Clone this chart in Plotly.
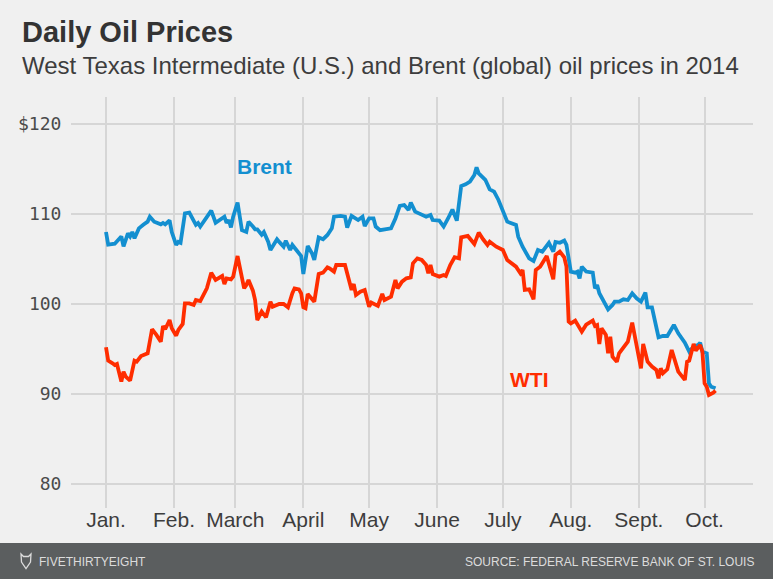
import pandas as pd
import plotly.graph_objects as go

# ---- data (day offsets from 2014-01-01, price in US$ per barrel) ----
brent_day = [0, 1, 4, 6, 7, 8, 10, 11, 12, 13, 14, 15, 17, 19, 20, 21, 22, 25, 26, 27,
             29, 30, 32, 33, 34, 36, 38, 41, 42, 43, 45, 47, 48, 50, 52, 54, 55, 56, 57, 58,
             60, 62, 64, 65, 67, 68, 69, 71, 72, 74, 75, 78, 79, 81, 82, 84, 85, 87, 89, 90,
             92, 94, 95, 97, 99, 101, 103, 104, 107, 109, 110, 112, 115, 117, 118, 120, 122, 123, 125, 130,
             132, 134, 136, 138, 139, 141, 144, 146, 148, 149, 152, 154, 156, 158, 160, 161, 162, 164, 166, 168,
             169, 170, 173, 175, 177, 179, 181, 183, 187, 188, 190, 193, 195, 197, 199, 201, 202, 204, 205, 207,
             209, 210, 212, 214, 215, 216, 217, 219, 222, 223, 224, 225, 227, 229, 231, 232, 234, 236, 238, 240,
             242, 244, 246, 247, 249, 250, 252, 254, 256, 259, 260, 261, 264, 266, 268, 270, 271, 272, 274, 275,
             276, 278]
brent_price = [108.0, 106.6, 106.7, 107.3, 107.5, 106.4, 107.85, 107.5, 108.0, 107.3, 107.85, 108.4, 108.8, 109.15, 109.7, 109.4, 109.15, 108.85, 109.0, 108.85,
               109.3, 108.0, 106.56, 106.9, 106.8, 110.07, 110.15, 108.8, 109.0, 108.6, 109.25, 110.07, 110.37, 109.03, 109.4, 109.7, 109.0, 109.33, 108.5, 109.7,
               111.26, 108.2, 108.0, 109.15, 108.6, 108.3, 108.3, 107.7, 108.0, 106.9, 106.0, 107.19, 106.9, 106.37, 107.03, 106.0, 106.56, 106.0, 105.33, 103.33,
               106.44, 105.6, 104.9, 107.4, 107.2, 107.67, 108.4, 109.7, 109.78, 109.7, 108.48, 109.8, 109.33, 109.7, 108.67, 109.52, 109.52, 108.6, 108.2, 108.4,
               109.5, 110.9, 111.0, 110.44, 111.26, 110.26, 109.9, 109.7, 109.9, 109.33, 109.26, 108.6, 109.5, 110.5, 109.26, 111.56, 113.1, 113.3, 113.6, 114.33,
               115.19, 114.5, 113.8, 112.74, 112.48, 111.56, 110.44, 109.15, 108.78, 107.48, 106.37, 105.07, 104.78, 106.0, 105.81, 106.56, 106.8, 105.81, 106.9, 106.8,
               107.04, 106.56, 103.6, 103.48, 103.6, 102.85, 104.15, 103.6, 103.48, 101.74, 102.1, 101.19, 100.26, 99.41, 99.89, 100.26, 100.26, 100.52, 100.44, 101.19,
               100.63, 100.26, 101.26, 99.63, 99.63, 98.59, 96.3, 96.44, 96.44, 97.67, 97.1, 96.74, 95.7, 94.7, 95.26, 95.44, 95.7, 94.7, 94.52, 91.19,
               90.81, 90.63]

wti_day = [0, 1, 3, 4, 5, 7, 8, 9, 11, 13, 14, 15, 16, 19, 21, 23, 25, 26, 27, 29,
           30, 32, 33, 35, 36, 38, 40, 41, 43, 46, 48, 50, 52, 53, 54, 55, 57, 58, 60, 63,
           64, 65, 67, 68, 69, 71, 73, 75, 76, 79, 81, 83, 85, 86, 88, 89, 90, 91, 92, 95,
           97, 99, 101, 102, 104, 105, 109, 111, 112, 113, 114, 116, 118, 120, 121, 124, 126, 127, 130, 132,
           133, 135, 137, 139, 140, 142, 144, 146, 147, 148, 149, 152, 154, 155, 157, 159, 161, 162, 165, 168,
           170, 172, 174, 175, 178, 181, 183, 187, 189, 190, 191, 193, 195, 196, 198, 201, 204, 205, 207, 209,
           210, 211, 212, 214, 217, 219, 222, 223, 224, 225, 226, 227, 228, 229, 230, 231, 233, 234, 237, 238,
           240, 241, 244, 245, 247, 249, 251, 252, 253, 254, 256, 258, 259, 261, 264, 265, 266, 268, 269, 271,
           272, 273, 274, 275, 277, 278]
wti_price = [95.19, 93.7, 93.41, 93.22, 93.33, 91.37, 92.48, 91.93, 91.48, 93.7, 93.59, 93.96, 94.22, 94.52, 97.19, 96.56, 95.81, 97.56, 97.19, 98.22,
             97.3, 96.48, 97.11, 97.78, 100.07, 100.07, 99.89, 100.44, 100.33, 101.74, 103.48, 102.67, 102.96, 103.11, 102.22, 102.85, 102.74, 103.04, 105.33, 101.74,
             102.11, 102.67, 101.48, 100.44, 98.22, 99.15, 98.52, 100.26, 99.7, 100.0, 100.0, 99.63, 101.19, 101.74, 101.63, 101.19, 99.63, 99.52, 101.11, 100.26,
             103.33, 103.48, 104.07, 103.96, 103.6, 104.33, 104.33, 102.26, 101.56, 102.22, 101.0, 101.37, 101.56, 99.7, 100.15, 99.78, 101.11, 100.44, 100.81, 102.67,
             101.74, 102.48, 102.85, 102.96, 104.52, 105.07, 104.89, 104.33, 103.41, 104.33, 103.33, 103.04, 103.22, 103.11, 104.33, 105.19, 105.07, 107.41, 107.56, 106.67,
             107.93, 107.19, 106.56, 106.92, 106.37, 106.0, 104.89, 104.15, 103.41, 103.78, 101.56, 101.63, 100.52, 103.78, 104.15, 105.33, 102.74, 105.44, 105.81, 105.19,
             104.15, 98.04, 97.85, 98.15, 96.93, 97.7, 98.15, 97.56, 97.67, 95.56, 97.3, 96.93, 96.56, 94.52, 96.37, 94.15, 93.59, 94.52, 95.44, 95.81,
             97.93, 96.74, 92.85, 95.56, 93.59, 93.04, 92.67, 91.74, 92.85, 92.3, 92.74, 94.89, 93.96, 92.48, 91.56, 93.59, 93.7, 95.56, 94.81, 95.44,
             94.7, 91.19, 90.81, 89.89, 90.15, 90.37]

month_starts = ['2014-01-01', '2014-02-01', '2014-03-01', '2014-04-01', '2014-05-01',
                '2014-06-01', '2014-07-01', '2014-08-01', '2014-09-01', '2014-10-01']
month_labels = ['Jan.', 'Feb.', 'March', 'April', 'May', 'June', 'July', 'Aug.', 'Sept.', 'Oct.']
y_ticks = [80, 90, 100, 110, 120]
y_labels = ['80', '90', '100', '110', '$120']

base = pd.Timestamp('2014-01-01')
brent_dates = [base + pd.Timedelta(days=d) for d in brent_day]
wti_dates = [base + pd.Timedelta(days=d) for d in wti_day]

# ---- layout helpers (pixel -> paper) ----
W, H = 773, 579
L, R, T, B = 71, 753, 97, 508


def px(x):
    return (x - L) / (R - L)


def py(y):
    return (B - y) / (B - T)


BG = '#f0f0f0'
BLUE = '#138fd0'
RED = '#ff2d00'
TXT = '#3d3d3d'
FONT = 'Liberation Sans, Arial, sans-serif'

fig = go.Figure()
fig.add_trace(go.Scatter(x=brent_dates, y=brent_price, mode='lines', name='Brent',
                         line=dict(color=BLUE, width=3.8), hoverinfo='skip'))
fig.add_trace(go.Scatter(x=wti_dates, y=wti_price, mode='lines', name='WTI',
                         line=dict(color=RED, width=3.8), hoverinfo='skip'))

fig.update_layout(
    width=W, height=H,
    margin=dict(l=L, r=W - R, t=T, b=H - B, pad=0),
    paper_bgcolor=BG, plot_bgcolor=BG,
    showlegend=False,
    xaxis=dict(
        type='date', range=['2013-12-16 01:00', '2014-10-23 02:00'],
        tickvals=month_starts, ticktext=month_labels,
        showgrid=True, gridcolor='#d6d6d6', gridwidth=1.5,
        zeroline=False, showline=False,
        ticks='', ticklabelstandoff=-3,
        tickfont=dict(family=FONT, size=21, color=TXT),
    ),
    yaxis=dict(
        range=[77.33, 123.0],
        tickvals=y_ticks, ticktext=y_labels,
        showgrid=True, gridcolor='#d6d6d6', gridwidth=1.5,
        zeroline=False, showline=False,
        ticks='outside', ticklen=5, tickcolor='rgba(0,0,0,0)',
        tickfont=dict(family='DejaVu Sans Mono, monospace', size=18, color='#4a4a4a'),
    ),
)

ann = []
ann.append(dict(text='<b>Daily Oil Prices</b>', xref='paper', yref='paper',
                x=px(20), y=py(31.5), xanchor='left', yanchor='middle', showarrow=False,
                font=dict(family=FONT, size=29, color='#333333')))
ann.append(dict(text='West Texas Intermediate (U.S.) and Brent (global) oil prices in 2014',
                xref='paper', yref='paper', x=px(20), y=py(65.5), xanchor='left', yanchor='middle',
                showarrow=False, font=dict(family=FONT, size=24, color='#3d3d3d')))
ann.append(dict(text='<b>Brent</b>', x='2014-03-14 05:00', y=115.33, xanchor='center', yanchor='middle',
                showarrow=False, font=dict(family=FONT, size=21, color=BLUE)))
ann.append(dict(text='<b>WTI</b>', x='2014-07-13', y=91.6, xanchor='center', yanchor='middle',
                showarrow=False, font=dict(family=FONT, size=21, color=RED)))
ann.append(dict(text='FIVETHIRTYEIGHT', xref='paper', yref='paper', x=px(37), y=py(561.5),
                xanchor='left', yanchor='middle', showarrow=False,
                font=dict(family=FONT, size=12, color='#dcdcdc')))
ann.append(dict(text='SOURCE: FEDERAL RESERVE BANK OF ST. LOUIS', xref='paper', yref='paper',
                x=px(756), y=py(561.5), xanchor='right', yanchor='middle', showarrow=False,
                font=dict(family=FONT, size=12, color='#dcdcdc')))
fig.update_layout(annotations=ann)

# footer bar and a small logo mark
shapes = [dict(type='rect', xref='paper', yref='paper', x0=px(0), x1=px(W), y0=py(H), y1=py(543),
               fillcolor='#5b5e5f', line=dict(width=0), layer='above')]
logo = [(21, 554), (23.5, 556.5), (28.5, 556.5), (31, 554), (30.5, 562), (26, 568.5), (21.5, 562)]
path = 'M ' + ' L '.join(f'{px(a):.5f},{py(b):.5f}' for a, b in logo) + ' Z'
shapes.append(dict(type='path', xref='paper', yref='paper', path=path,
                   line=dict(color='#dcdcdc', width=1.3), fillcolor='rgba(0,0,0,0)', layer='above'))
fig.update_layout(shapes=shapes)

fig.write_html('out.html', config={'displayModeBar': False},
               post_script="document.body.style.margin='0';")
